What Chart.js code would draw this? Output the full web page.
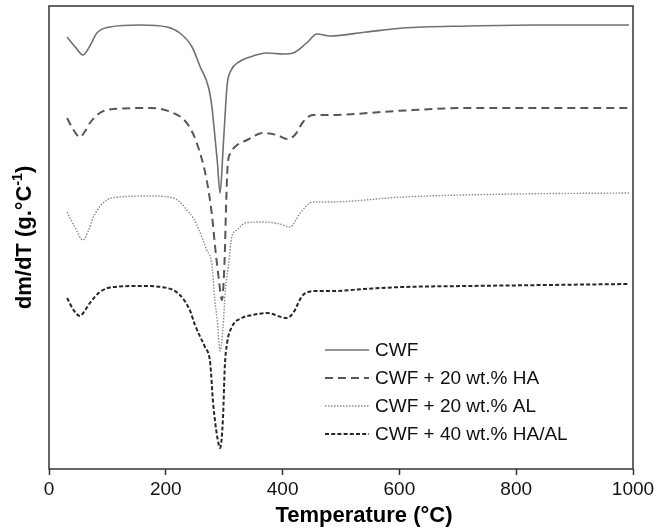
<!DOCTYPE html>
<html>
<head>
<meta charset="utf-8">
<title>DTG curves</title>
<script src="https://cdn.jsdelivr.net/npm/chart.js@4.4.1/dist/chart.umd.min.js"></script>
<style>
  body { margin: 0; background: #fff; }
  #wrap { width: 672px; height: 531px; }
</style>
</head>
<body>
<div id="wrap"><canvas id="dtgChart" width="672" height="531"></canvas></div>
<script>
// DTG curves, temperature (°C) vs dm/dT in arbitrary units (curves offset, no y scale shown)
const seriesNames = ["CWF", "CWF + 20 wt.% HA", "CWF + 20 wt.% AL", "CWF + 40 wt.% HA/AL"];
const xTicks = [0, 200, 400, 600, 800, 1000];

const cwfT = [31, 45, 58, 70, 82, 104, 156, 202, 224, 245, 259, 273, 279, 283, 288, 293, 298, 301, 305, 312, 325, 344, 373, 401, 418, 441, 459, 481, 543, 606, 719, 834, 993];
const cwfY = [432, 422, 414, 423, 436, 442, 444, 442, 436, 422, 402, 382, 362, 339, 309, 276, 319, 349, 384, 399, 407, 412, 416, 415, 416, 426, 435, 433, 437, 441, 443, 444, 444];

const haT = [31, 42, 53, 62, 70, 87, 110, 173, 213, 236, 253, 270, 279, 285, 291, 296, 301, 303, 306, 311, 318, 339, 366, 390, 408, 421, 435, 452, 481, 594, 719, 993];
const haY = [351, 339, 332, 338, 346, 356, 360, 361, 356, 346, 326, 289, 254, 219, 189, 169, 214, 259, 304, 316, 322, 329, 336, 334, 330, 334, 347, 354, 354, 358, 361, 361];

const alT = [31, 45, 58, 68, 76, 99, 122, 173, 213, 224, 236, 247, 259, 270, 279, 284, 288, 293, 298, 302, 307, 313, 322, 336, 367, 395, 413, 430, 452, 481, 606, 800, 993];
const alY = [257, 241, 229, 239, 252, 269, 272, 273, 271, 267, 259, 251, 236, 219, 204, 169, 149, 118, 142, 179, 202, 232, 239, 246, 247, 245, 242, 256, 267, 267, 272, 275, 276];

const haAlT = [31, 42, 53, 62, 70, 87, 110, 156, 202, 224, 241, 250, 259, 267, 276, 281, 289, 293, 298, 301, 305, 313, 330, 349, 373, 407, 418, 435, 459, 486, 540, 606, 720, 850, 993];
const haAlY = [171, 159, 153, 159, 166, 177, 182, 183, 181, 174, 159, 144, 132, 122, 106, 66, 29, 21, 52, 102, 126, 142, 151, 154, 156, 151, 156, 174, 178, 178, 180, 182, 183, 184, 185];

const toPoints = (xs, ys) => xs.map((x, i) => ({ x: x, y: ys[i] }));

const FONT = "'Liberation Sans', Arial, Helvetica, sans-serif";

const lineStyles = [
  { color: "#707070", width: 1.6, dash: [] },
  { color: "#575757", width: 2, dash: [8, 5] },
  { color: "#8a8a8a", width: 1.4, dash: [1.5, 1.5] },
  { color: "#262626", width: 2, dash: [4, 2.2] }
];

// frame, legend and axis titles are painted straight onto the canvas
const decorations = {
  id: "decorations",
  afterDatasetsDraw(chart) {
    const { ctx, chartArea: a } = chart;
    ctx.save();

    // box around the plot
    ctx.strokeStyle = "#333";
    ctx.lineWidth = 1.5;
    ctx.setLineDash([]);
    ctx.strokeRect(a.left, a.top, a.right - a.left, a.bottom - a.top);

    // legend, lower right inside the plot
    const lx0 = 325, lx1 = 369, tx = 375;
    const rows = [350, 378, 406, 434];
    ctx.font = "19px " + FONT;
    ctx.textBaseline = "middle";
    ctx.textAlign = "left";
    seriesNames.forEach((name, i) => {
      const s = lineStyles[i];
      ctx.beginPath();
      ctx.strokeStyle = s.color;
      ctx.lineWidth = s.width;
      ctx.setLineDash(s.dash);
      ctx.moveTo(lx0, rows[i]);
      ctx.lineTo(lx1, rows[i]);
      ctx.stroke();
      ctx.fillStyle = "#111";
      ctx.fillText(name, tx, rows[i] + 1);
    });
    ctx.setLineDash([]);

    // x axis title
    ctx.fillStyle = "#000";
    ctx.font = "bold 22px " + FONT;
    ctx.textAlign = "center";
    ctx.fillText("Temperature (°C)", 364, 516);

    // y axis title, rotated, with a raised "-1"
    ctx.translate(25, (a.top + a.bottom) / 2);
    ctx.rotate(-Math.PI / 2);
    const main = "dm/dT (g.°C", sup = "-1", tail = ")";
    const bigFont = "bold 22px " + FONT, supFont = "bold 14px " + FONT;
    ctx.font = bigFont;
    const wMain = ctx.measureText(main).width, wTail = ctx.measureText(tail).width;
    ctx.font = supFont;
    const wSup = ctx.measureText(sup).width;
    let x = -(wMain + wSup + wTail) / 2;
    ctx.textAlign = "left";
    ctx.font = bigFont;
    ctx.fillText(main, x, 0);
    x += wMain;
    ctx.font = supFont;
    ctx.fillText(sup, x, -7);
    x += wSup;
    ctx.font = bigFont;
    ctx.fillText(tail, x, 0);

    ctx.restore();
  }
};

const datasets = [
  toPoints(cwfT, cwfY),
  toPoints(haT, haY),
  toPoints(alT, alY),
  toPoints(haAlT, haAlY)
].map((pts, i) => ({
  label: seriesNames[i],
  data: pts,
  borderColor: lineStyles[i].color,
  borderWidth: lineStyles[i].width,
  borderDash: lineStyles[i].dash,
  pointRadius: 0,
  fill: false,
  cubicInterpolationMode: "monotone"
}));

new Chart(document.getElementById("dtgChart").getContext("2d"), {
  type: "line",
  data: { datasets: datasets },
  options: {
    responsive: false,
    animation: false,
    devicePixelRatio: 1,
    layout: { padding: { left: 0, top: 6, right: 39, bottom: 0 } },
    plugins: {
      legend: { display: false },
      tooltip: { enabled: false }
    },
    scales: {
      x: {
        type: "linear",
        min: 0,
        max: 1000,
        afterBuildTicks: (scale) => { scale.ticks = xTicks.map(v => ({ value: v })); },
        afterFit: (scale) => { scale.height = 62; },
        border: { display: false },
        grid: { drawOnChartArea: false, drawTicks: true, tickLength: 6, tickColor: "#333", tickWidth: 1.5 },
        ticks: {
          color: "#111",
          font: { family: FONT, size: 19 },
          padding: 3,
          maxRotation: 0,
          callback: (v) => String(v)
        }
      },
      y: {
        min: 0,
        max: 463,
        afterFit: (scale) => { scale.width = 49; },
        border: { display: false },
        grid: { display: false },
        ticks: { display: false }
      }
    }
  },
  plugins: [decorations]
});
</script>
</body>
</html>
